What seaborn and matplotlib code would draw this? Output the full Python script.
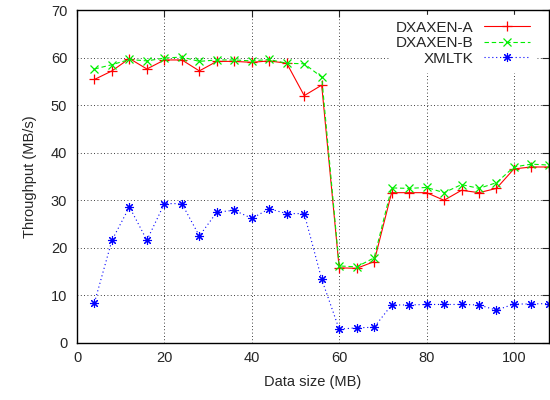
import pandas as pd
import matplotlib
matplotlib.use("Agg")
import matplotlib.pyplot as plt
import seaborn as sns

# data
sizes = [4, 8, 12, 16, 20, 24, 28, 32, 36, 40, 44, 48, 52, 56,
         60, 64, 68, 72, 76, 80, 84, 88, 92, 96, 100, 104, 108]
dxaxen_a = [55.4, 57.2, 59.8, 57.6, 59.5, 59.5, 57.2, 59.2, 59.2, 59.0, 59.3, 58.8, 52.0, 54.2,
            15.8, 15.7, 17.1, 31.6, 31.6, 31.6, 30.0, 32.1, 31.6, 32.5, 36.6, 37.0, 37.0]
dxaxen_b = [57.6, 58.5, 59.6, 59.3, 59.9, 60.1, 59.2, 59.5, 59.5, 59.3, 59.6, 58.8, 58.7, 55.9,
            16.2, 16.0, 17.9, 32.6, 32.5, 32.7, 31.6, 33.3, 32.5, 33.7, 37.0, 37.6, 37.4]
xmltk = [8.5, 21.6, 28.6, 21.6, 29.3, 29.3, 22.5, 27.5, 27.9, 26.2, 28.2, 27.2, 27.2, 13.4,
         2.9, 3.2, 3.3, 8.0, 8.0, 8.1, 8.1, 8.1, 8.0, 6.9, 8.2, 8.2, 8.3]

df = pd.DataFrame({"size": sizes, "DXAXEN-A": dxaxen_a,
                   "DXAXEN-B": dxaxen_b, "XMLTK": xmltk})

sns.set_style("white")
plt.rcParams["font.family"] = ["Liberation Sans", "DejaVu Sans"]
plt.rcParams["font.size"] = 10.5

fig, ax = plt.subplots(figsize=(5.5, 4), dpi=100)
fig.subplots_adjust(left=0.14, right=0.998, top=0.975, bottom=0.1425)

red, green, blue = "#ff0000", "#00ee00", "#0000ff"
sns.lineplot(data=df, x="size", y="DXAXEN-A", ax=ax, color=red, lw=0.8,
             marker="+", markersize=7, mew=0.9, mec=red, label="DXAXEN-A")
sns.lineplot(data=df, x="size", y="DXAXEN-B", ax=ax, color=green, lw=0.8,
             dashes=(4, 2.5), marker="x", markersize=6, mew=0.9, mec=green, label="DXAXEN-B")
sns.lineplot(data=df, x="size", y="XMLTK", ax=ax, color=blue, lw=0.8,
             dashes=(1, 2.5), marker=(8, 2, 0), markersize=6.5, mew=0.8, mec=blue, label="XMLTK")

ax.set_xlim(0, 108)
ax.set_ylim(0, 70)
ax.set_xticks(range(0, 101, 20))
ax.set_yticks(range(0, 71, 10))
ax.set_xlabel("Data size (MB)", labelpad=7)
ax.set_ylabel("Throughput (MB/s)", labelpad=10)
ax.grid(True, color="black", linestyle=(0, (1, 3)), linewidth=0.6)
ax.tick_params(direction="in", top=True, right=True, length=5, width=0.8)
ax.tick_params(axis="y", pad=7)
ax.tick_params(axis="x", pad=6)
for s in ax.spines.values():
    s.set_color("black")
    s.set_linewidth(1)

leg = ax.legend(loc="upper right", bbox_to_anchor=(0.983, 1.0), markerfirst=False,
                frameon=True, fancybox=False, edgecolor="white", framealpha=1,
                handlelength=3.0, fontsize=11, borderaxespad=0.3, labelspacing=0.1,
                handletextpad=0.7)
for t in leg.get_texts():
    t.set_ha("right")

fig.savefig("out.png", dpi=100)
